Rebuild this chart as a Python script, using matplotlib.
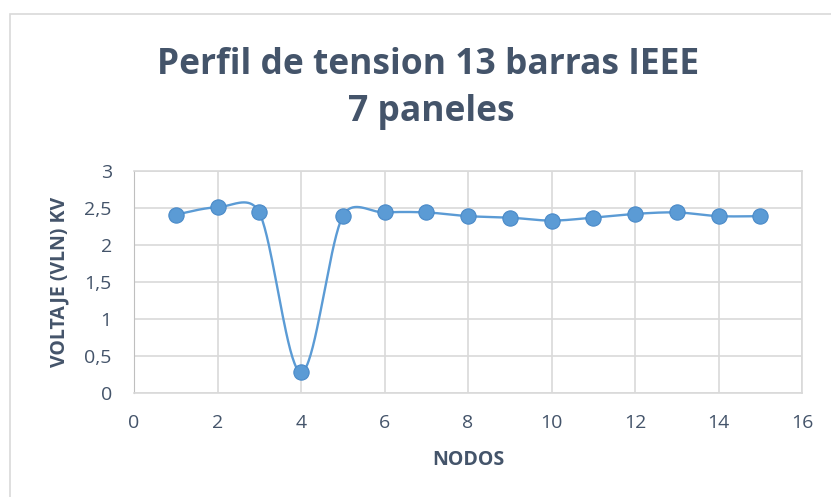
import numpy as np
import matplotlib.pyplot as plt
from matplotlib.patches import Rectangle
from matplotlib.ticker import FuncFormatter

# datos
nodos   = [1, 2, 3, 4, 5, 6, 7, 8, 9, 10, 11, 12, 13, 14, 15]
voltaje = [2.41, 2.51, 2.44, 0.28, 2.39, 2.44, 2.44, 2.39, 2.37, 2.33, 2.37, 2.42, 2.44, 2.39, 2.39]
x_ticks = [0, 2, 4, 6, 8, 10, 12, 14, 16]
y_ticks = [0, 0.5, 1, 1.5, 2, 2.5, 3]

txt_col  = '#44546A'
line_col = '#5B9BD5'
grid_col = '#D9D9D9'

plt.rcParams['font.family'] = ['Open Sans', 'DejaVu Sans']

# tamano del area de trazado en pixeles
W_px, H_px = 802 - 134, 393 - 171
sx_px = W_px / 16.0
sy_px = H_px / 3.0


def smooth(xs, ys, n=40):
    # linea suavizada al estilo Excel (Bezier, control limitado por segmento)
    P = np.column_stack([np.asarray(xs, float) * sx_px, np.asarray(ys, float) * sy_px])
    Q = np.vstack([P[0], P, P[-1]])
    t = np.linspace(0, 1, n)[:, None]
    out = []
    for i in range(1, len(Q) - 2):
        p0, p1, p2, p3 = Q[i - 1], Q[i], Q[i + 1], Q[i + 2]
        dseg = np.linalg.norm(p2 - p1)
        d02 = np.linalg.norm(p2 - p0)
        d13 = np.linalg.norm(p3 - p1)
        f1 = 1 / 6 if d02 / 6 < dseg / 2 else dseg / (2 * d02)
        f2 = 1 / 6 if d13 / 6 < dseg / 2 else dseg / (2 * d13)
        c1 = p1 + (p2 - p0) * f1
        c2 = p2 - (p3 - p1) * f2
        b = (1 - t) ** 3 * p1 + 3 * (1 - t) ** 2 * t * c1 + 3 * (1 - t) * t ** 2 * c2 + t ** 3 * p2
        out.append(b)
    out = np.vstack(out)
    return out[:, 0] / sx_px, out[:, 1] / sy_px


fig = plt.figure(figsize=(8.31, 4.97), dpi=100)
fig.patches.append(Rectangle((10 / 831, -0.1), 1.2, 1 - 14 / 497 + 0.1,
                             transform=fig.transFigure, fill=False,
                             edgecolor='#D9D9D9', linewidth=1.2))

ax = fig.add_axes([134 / 831, 1 - 393 / 497, W_px / 831, H_px / 497])

lx, ly = smooth(nodos, voltaje)
ax.plot(lx, ly, color=line_col, linewidth=1.7, zorder=3)
ax.plot(nodos, voltaje, 'o', markersize=11, markerfacecolor=line_col,
        markeredgecolor='#4A8AC8', markeredgewidth=0.8, zorder=4)

ax.set_xlim(0, 16)
ax.set_ylim(0, 3)
ax.set_xticks(x_ticks)
ax.set_yticks(y_ticks)
ax.yaxis.set_major_formatter(FuncFormatter(lambda v, p: ('%g' % v).replace('.', ',')))
ax.grid(True, color=grid_col, linewidth=1.2)
ax.set_axisbelow(True)
for s in ['top', 'right', 'bottom']:
    ax.spines[s].set_color(grid_col)
    ax.spines[s].set_linewidth(1.2)
ax.spines['left'].set_color('#BFBFBF')
ax.tick_params(length=0, labelsize=14, colors=txt_col)
ax.tick_params(axis='x', pad=15)
ax.tick_params(axis='y', pad=16)

fig.text(468 / 831, 1 - 460 / 497, 'NODOS', ha='center', va='center',
         fontsize=14, fontweight='bold', color=txt_col)
fig.text(59 / 831, 1 - 282 / 497, 'VOLTAJE (VLN) KV', ha='center', va='center',
         rotation=90, fontsize=14, fontweight='bold', color=txt_col)

fig.text(428 / 831, 1 - 74 / 497, 'Perfil de tension 13 barras IEEE', ha='center', va='baseline',
         fontsize=25.5, fontweight='bold', color=txt_col)
fig.text(431 / 831, 1 - 121 / 497, '7 paneles', ha='center', va='baseline',
         fontsize=25.5, fontweight='bold', color=txt_col)

plt.savefig('out.png', dpi=100)
